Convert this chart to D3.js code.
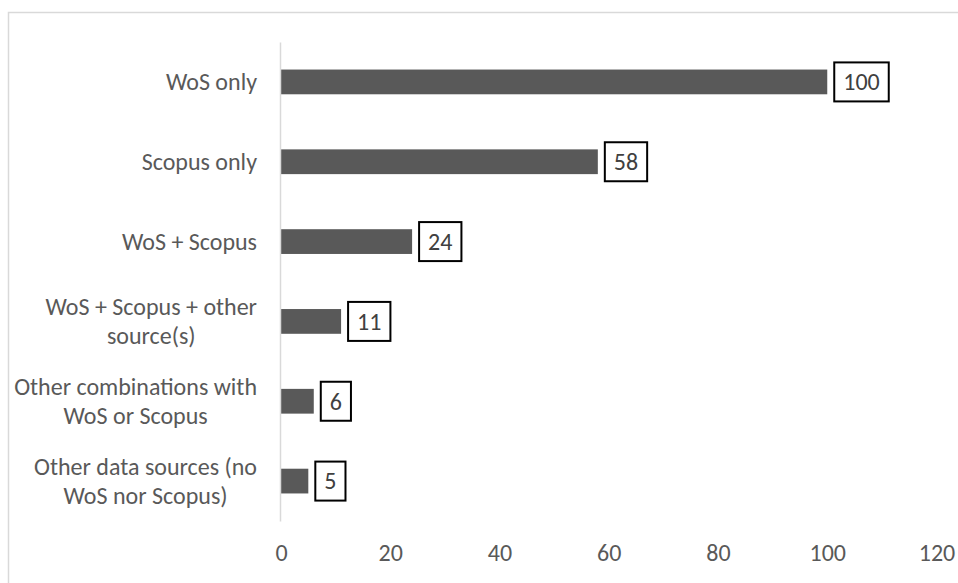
<!DOCTYPE html>
<html>
<head>
<meta charset="utf-8">
<script src="https://cdn.jsdelivr.net/npm/d3@7"></script>
<style>
  html, body { margin: 0; padding: 0; background: #fff; }
  svg { display: block; }
</style>
</head>
<body>
<svg id="chart" width="958" height="583"></svg>
<script>
const categories = [
  "WoS only",
  "Scopus only",
  "WoS + Scopus",
  "WoS + Scopus + other\nsource(s)",
  "Other combinations with\nWoS or Scopus",
  "Other data sources (no\nWoS nor Scopus)"
];
const values = [100, 58, 24, 11, 6, 5];
const xTicks = [0, 20, 40, 60, 80, 100, 120];

const FONT = "Carlito, Calibri, Lato, 'Open Sans', sans-serif";
const FS = 24;

const svg = d3.select("#chart");

// chart area border
svg.append("rect")
  .attr("x", 8.5).attr("y", 12.5)
  .attr("width", 1000).attr("height", 1000)
  .attr("fill", "#fff")
  .attr("stroke", "#d9d9d9").attr("stroke-width", 1.5);

const x = d3.scaleLinear().domain([0, 120]).range([281, 936.5]);
const y = d3.scaleBand().domain(categories).range([42, 521])
  .paddingInner(0.69).paddingOuter(0.345);

// bars
svg.append("g").selectAll("rect")
  .data(values)
  .join("rect")
  .attr("x", x(0))
  .attr("y", (d, i) => y(categories[i]))
  .attr("width", d => x(d) - x(0))
  .attr("height", y.bandwidth())
  .attr("fill", "#595959");

// vertical category axis line
const yAxis = svg.append("g")
  .attr("transform", `translate(${x(0) - 1},0)`)
  .call(d3.axisLeft(y).tickSize(0).tickFormat(""));
yAxis.select(".domain").attr("stroke", "#d9d9d9").attr("stroke-width", 1.5);
yAxis.selectAll(".tick").remove();

// category labels (multi-line, centered lines, block right-aligned)
const labelRight = 257;
const lineH = 29;
const lab = svg.append("g")
  .attr("font-family", FONT).attr("font-size", FS).attr("fill", "#595959");
categories.forEach((c, i) => {
  const lines = c.split("\n");
  const cy = y(c) + y.bandwidth() / 2;
  const g = lab.append("g");
  const texts = lines.map((ln, j) => g.append("text")
    .attr("y", cy + (j - (lines.length - 1) / 2) * lineH)
    .attr("dy", "0.35em")
    .attr("text-anchor", "middle")
    .text(ln));
  const maxW = d3.max(texts, t => t.node().getComputedTextLength());
  texts.forEach(t => t.attr("x", labelRight - maxW / 2));
});

// x axis tick labels
const xAxis = svg.append("g")
  .attr("transform", "translate(0,521)")
  .call(d3.axisBottom(x).tickValues(xTicks).tickSize(0).tickPadding(23));
xAxis.select(".domain").remove();
xAxis.selectAll("text")
  .attr("font-family", FONT).attr("font-size", FS).attr("fill", "#595959");

// data labels with boxes
const dl = svg.append("g").attr("font-family", FONT).attr("font-size", FS);
values.forEach((v, i) => {
  const cy = y(categories[i]) + y.bandwidth() / 2;
  const g = dl.append("g");
  const rect = g.append("rect");
  const t = g.append("text")
    .attr("text-anchor", "middle")
    .attr("dy", "0.35em")
    .attr("y", cy)
    .attr("fill", "#404040")
    .text(v);
  const w = t.node().getComputedTextLength() + 18;
  const left = x(v) + 7;
  t.attr("x", left + w / 2);
  rect.attr("x", left).attr("y", cy - 19.5)
    .attr("width", w).attr("height", 39)
    .attr("fill", "#fff").attr("stroke", "#000").attr("stroke-width", 2);
});
</script>
</body>
</html>
